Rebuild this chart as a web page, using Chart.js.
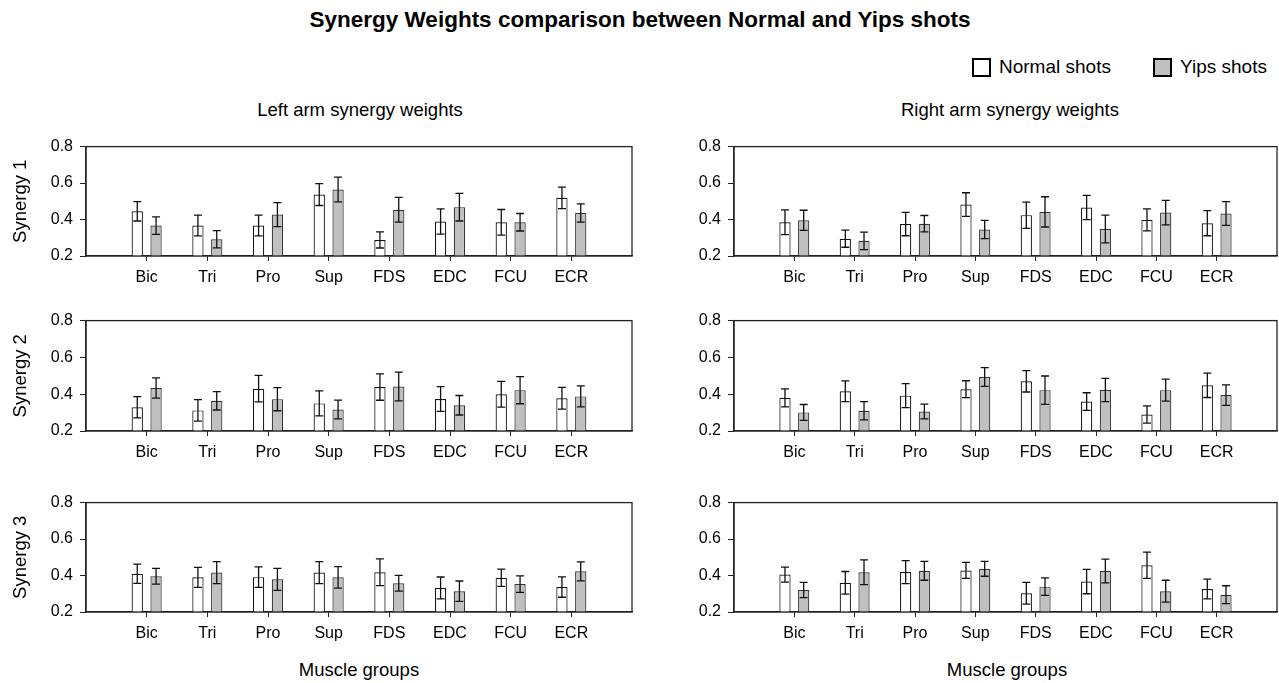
<!DOCTYPE html>
<html>
<head>
<meta charset="utf-8">
<script src="https://cdn.jsdelivr.net/npm/chart.js@4.4.1/dist/chart.umd.min.js"></script>
<style>
  body { margin: 0; background: #fff; }
  #fig { position: relative; width: 1279px; height: 683px; background: #fff; font-family: "Liberation Sans", Arial, sans-serif; color: #000; overflow: hidden; }
  #fig canvas { position: absolute; }
  .txt { position: absolute; white-space: nowrap; transform: translate(-50%, -50%); }
  .title { font-weight: bold; font-size: 22.5px; }
  .sub { font-size: 18.5px; }
  .leg { position: absolute; font-size: 19px; display: flex; align-items: center; transform: translateY(-50%); }
  .leg span.box { display: inline-block; width: 15px; height: 15px; border: 2px solid #000; margin-right: 8px; }
</style>
</head>
<body>
<div id="fig">
  <div class="txt title" style="left:640px; top:20px;">Synergy Weights comparison between Normal and Yips shots</div>
  <div class="leg" style="left:972px; top:67px;"><span class="box" style="background:#fff"></span>Normal shots</div>
  <div class="leg" style="left:1153px; top:67px;"><span class="box" style="background:#c0c0c0"></span>Yips shots</div>
  <div class="txt sub" style="left:360px; top:110px;">Left arm synergy weights</div>
  <div class="txt sub" style="left:1010px; top:110px;">Right arm synergy weights</div>
  <div class="txt sub" style="left:359px; top:670px;">Muscle groups</div>
  <div class="txt sub" style="left:1007px; top:670px;">Muscle groups</div>
  <canvas id="L1" width="640" height="166"></canvas>
  <canvas id="R1" width="639" height="166"></canvas>
  <canvas id="L2" width="640" height="167"></canvas>
  <canvas id="R2" width="639" height="167"></canvas>
  <canvas id="L3" width="640" height="166"></canvas>
  <canvas id="R3" width="639" height="166"></canvas>
</div>
<script>
// muscle groups
var muscles = ["Bic", "Tri", "Pro", "Sup", "FDS", "EDC", "FCU", "ECR"];
var yTicks = [0.2, 0.4, 0.6, 0.8];

// left arm, synergy 1
var L1_normal    = [0.445, 0.367, 0.367, 0.537, 0.288, 0.389, 0.385, 0.519];
var L1_normalErr = [0.053, 0.057, 0.057, 0.060, 0.044, 0.069, 0.070, 0.059];
var L1_yips      = [0.367, 0.292, 0.427, 0.565, 0.454, 0.468, 0.385, 0.436];
var L1_yipsErr   = [0.048, 0.047, 0.066, 0.068, 0.068, 0.076, 0.048, 0.050];
// right arm, synergy 1
var R1_normal    = [0.385, 0.295, 0.375, 0.482, 0.424, 0.466, 0.398, 0.380];
var R1_normalErr = [0.068, 0.047, 0.064, 0.065, 0.072, 0.067, 0.060, 0.069];
var R1_yips      = [0.396, 0.283, 0.377, 0.345, 0.442, 0.348, 0.438, 0.433];
var R1_yipsErr   = [0.055, 0.048, 0.045, 0.050, 0.083, 0.076, 0.067, 0.065];
// left arm, synergy 2
var L2_normal    = [0.329, 0.312, 0.430, 0.350, 0.439, 0.374, 0.400, 0.378];
var L2_normalErr = [0.058, 0.058, 0.072, 0.068, 0.072, 0.067, 0.070, 0.059];
var L2_yips      = [0.434, 0.364, 0.373, 0.317, 0.442, 0.340, 0.422, 0.388];
var L2_yipsErr   = [0.055, 0.050, 0.063, 0.051, 0.078, 0.053, 0.074, 0.057];
// right arm, synergy 2
var R2_normal    = [0.380, 0.416, 0.392, 0.427, 0.470, 0.360, 0.290, 0.448];
var R2_normalErr = [0.049, 0.056, 0.065, 0.046, 0.058, 0.048, 0.047, 0.066];
var R2_yips      = [0.301, 0.310, 0.306, 0.493, 0.422, 0.423, 0.422, 0.395];
var R2_yipsErr   = [0.043, 0.050, 0.040, 0.051, 0.077, 0.063, 0.060, 0.056];
// left arm, synergy 3
var L3_normal    = [0.410, 0.390, 0.391, 0.416, 0.418, 0.332, 0.388, 0.337];
var L3_normalErr = [0.053, 0.055, 0.056, 0.060, 0.073, 0.060, 0.047, 0.056];
var L3_yips      = [0.396, 0.416, 0.379, 0.390, 0.358, 0.314, 0.353, 0.423];
var L3_yipsErr   = [0.043, 0.060, 0.060, 0.059, 0.043, 0.056, 0.045, 0.052];
// right arm, synergy 3
var R3_normal    = [0.405, 0.360, 0.419, 0.428, 0.303, 0.367, 0.456, 0.326];
var R3_normalErr = [0.041, 0.062, 0.063, 0.044, 0.060, 0.067, 0.072, 0.054];
var R3_yips      = [0.321, 0.418, 0.426, 0.437, 0.339, 0.425, 0.314, 0.295];
var R3_yipsErr   = [0.042, 0.068, 0.052, 0.041, 0.048, 0.065, 0.060, 0.049];

var fontFam = "'Liberation Sans', Arial, sans-serif";

// error bars + closed frame
var errorBarPlugin = {
  id: "errorBars",
  afterDatasetsDraw: function (chart) {
    var ctx = chart.ctx;
    var y = chart.scales.y;
    ctx.save();
    chart.data.datasets.forEach(function (ds, di) {
      var meta = chart.getDatasetMeta(di);
      meta.data.forEach(function (bar, i) {
        var v = ds.data[i], e = ds.errors[i];
        var top = y.getPixelForValue(v + e);
        var bot = y.getPixelForValue(v - e);
        ctx.strokeStyle = "#111";
        ctx.lineWidth = 1.3;
        ctx.beginPath();
        ctx.moveTo(bar.x, top); ctx.lineTo(bar.x, bot);
        ctx.moveTo(bar.x - 4, top); ctx.lineTo(bar.x + 4, top);
        ctx.moveTo(bar.x - 4, bot); ctx.lineTo(bar.x + 4, bot);
        ctx.stroke();
      });
    });
    var a = chart.chartArea;
    ctx.strokeStyle = "#222";
    ctx.lineWidth = 1.3;
    ctx.strokeRect(a.left, a.top, a.right - a.left, a.bottom - a.top);
    ctx.restore();
  }
};

function makePanel(id, canvasLeft, canvasWidth, plotLeft, plotRight, plotTop, plotH, yTitle, normal, normalErr, yips, yipsErr) {
  var el = document.getElementById(id);
  var padTop = 12;
  el.style.left = canvasLeft + "px";
  el.style.top = (plotTop - padTop) + "px";
  el.height = padTop + plotH + 40;
  var yAxisW = plotLeft - canvasLeft;
  var padRight = canvasLeft + canvasWidth - plotRight;

  new Chart(el, {
    type: "bar",
    data: {
      labels: muscles.map(function (m, i) { return i; }),
      datasets: [
        {
          label: "Normal shots",
          data: normal,
          errors: normalErr,
          backgroundColor: "#ffffff",
          borderColor: "#111",
          borderWidth: 1.2,
          categoryPercentage: 0.62,
          barPercentage: 0.6
        },
        {
          label: "Yips shots",
          data: yips,
          errors: yipsErr,
          backgroundColor: "#c0c0c0",
          borderColor: "#333",
          borderWidth: 1.2,
          categoryPercentage: 0.62,
          barPercentage: 0.6
        }
      ]
    },
    options: {
      responsive: false,
      animation: false,
      layout: { padding: { top: padTop, right: padRight, left: 0, bottom: 0 } },
      plugins: { legend: { display: false }, tooltip: { enabled: false } },
      scales: {
        x: {
          type: "linear",
          min: -1,
          max: 8,
          offset: false,
          grid: { offset: false, drawOnChartArea: false, drawTicks: true, tickLength: 5, color: "#222" },
          border: { display: true, color: "#222", width: 1.3 },
          ticks: {
            stepSize: 1,
            padding: 7,
            color: "#000",
            font: { family: fontFam, size: 16 },
            callback: function (v) { return muscles[v]; }
          },
          afterBuildTicks: function (axis) {
            axis.ticks = muscles.map(function (m, i) { return { value: i }; });
          },
          afterFit: function (scale) { scale.height = 40; }
        },
        y: {
          min: yTicks[0],
          max: yTicks[yTicks.length - 1],
          grid: { drawOnChartArea: false, drawTicks: true, tickLength: 6, color: "#222" },
          border: { display: true, color: "#222", width: 1.3 },
          ticks: {
            stepSize: 0.2,
            padding: 7,
            color: "#000",
            font: { family: fontFam, size: 16 },
            callback: function (v) { return v.toFixed(1); }
          },
          afterBuildTicks: function (axis) {
            axis.ticks = yTicks.map(function (t) { return { value: t }; });
          },
          title: {
            display: !!yTitle,
            text: yTitle,
            color: "#000",
            font: { family: fontFam, size: 18.5 },
            padding: { top: 10, bottom: 0 }
          },
          afterFit: function (scale) { scale.width = yAxisW; }
        }
      }
    },
    plugins: [errorBarPlugin]
  });
}

makePanel("L1", 0, 640, 86, 632, 142, 114, "Synergy 1", L1_normal, L1_normalErr, L1_yips, L1_yipsErr);
makePanel("R1", 640, 639, 734, 1277, 142, 114, "", R1_normal, R1_normalErr, R1_yips, R1_yipsErr);
makePanel("L2", 0, 640, 86, 632, 316, 115, "Synergy 2", L2_normal, L2_normalErr, L2_yips, L2_yipsErr);
makePanel("R2", 640, 639, 734, 1277, 316, 115, "", R2_normal, R2_normalErr, R2_yips, R2_yipsErr);
makePanel("L3", 0, 640, 86, 632, 498, 114, "Synergy 3", L3_normal, L3_normalErr, L3_yips, L3_yipsErr);
makePanel("R3", 640, 639, 734, 1277, 498, 114, "", R3_normal, R3_normalErr, R3_yips, R3_yipsErr);
</script>
</body>
</html>
